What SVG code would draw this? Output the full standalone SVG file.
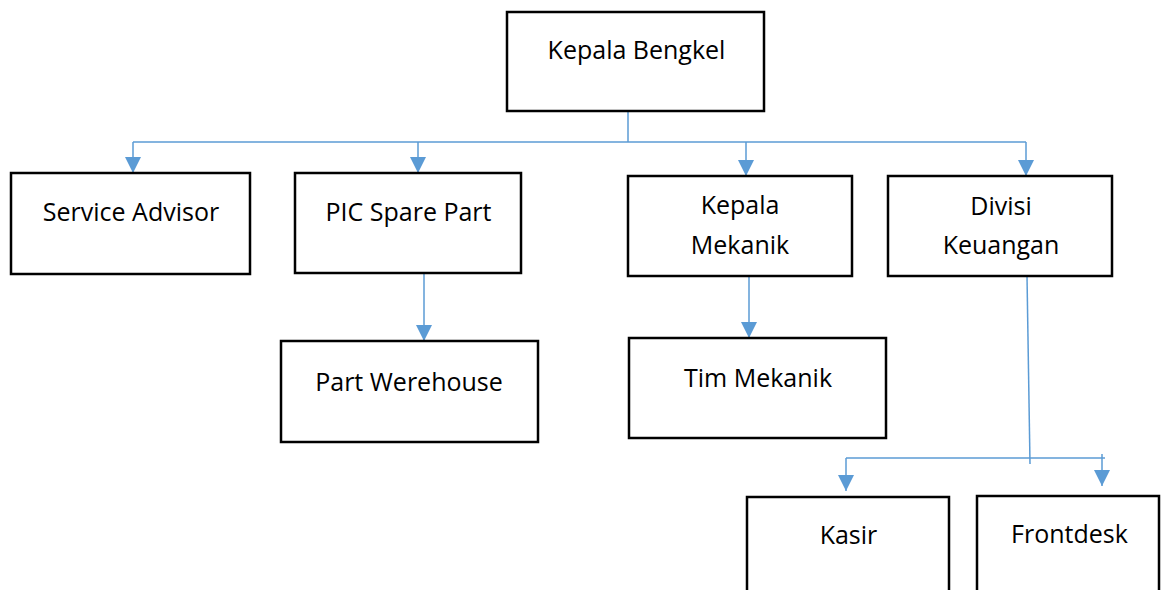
<svg xmlns="http://www.w3.org/2000/svg" width="1165" height="590" viewBox="0 0 1165 590">
<style>
.box{fill:#fff;stroke:#000;stroke-width:2.5}
.lbl{font-family:"Open Sans","Liberation Sans",sans-serif;font-size:25px;fill:#000;text-anchor:middle}
.ln{fill:none;stroke:#5B9BD5;stroke-width:1.5}
</style>
<defs>
<marker id="ah" markerUnits="userSpaceOnUse" markerWidth="16" markerHeight="16" refX="15" refY="7.5" orient="auto" viewBox="0 0 15 15">
<path d="M0,0 L15,7.5 L0,15 z" fill="#5B9BD5"/>
</marker>
</defs>
<rect width="1165" height="590" fill="#fff"/>
<g id="connectors">
<line class="ln" x1="628" y1="111" x2="628" y2="142"/>
<line class="ln" x1="133" y1="142" x2="1026" y2="142"/>
<line class="ln" x1="133" y1="142" x2="133" y2="173" marker-end="url(#ah)"/>
<line class="ln" x1="418" y1="142" x2="418" y2="173" marker-end="url(#ah)"/>
<line class="ln" x1="746" y1="142" x2="746" y2="176" marker-end="url(#ah)"/>
<line class="ln" x1="1026" y1="142" x2="1026" y2="176" marker-end="url(#ah)"/>
<line class="ln" x1="424" y1="273" x2="424" y2="341" marker-end="url(#ah)"/>
<line class="ln" x1="749" y1="276" x2="749" y2="338" marker-end="url(#ah)"/>
<line class="ln" x1="1027" y1="276" x2="1030" y2="464"/>
<line class="ln" x1="846" y1="458" x2="1105" y2="458"/>
<line class="ln" x1="846" y1="458" x2="846" y2="491" marker-end="url(#ah)"/>
<line class="ln" x1="1102" y1="454" x2="1102" y2="486" marker-end="url(#ah)"/>
</g>
<g id="kepala-bengkel">
<rect class="box" x="507" y="12" width="257" height="99"/>
<text class="lbl" x="636.5" y="59">Kepala Bengkel</text>
</g>
<g id="service-advisor">
<rect class="box" x="11" y="173" width="239" height="101"/>
<text class="lbl" x="131" y="221">Service Advisor</text>
</g>
<g id="pic-spare-part">
<rect class="box" x="295" y="173" width="226" height="100"/>
<text class="lbl" x="408.5" y="221">PIC Spare Part</text>
</g>
<g id="kepala-mekanik">
<rect class="box" x="628" y="176" width="224" height="100"/>
<text class="lbl" x="740" y="214">Kepala</text>
<text class="lbl" x="740" y="254">Mekanik</text>
</g>
<g id="divisi-keuangan">
<rect class="box" x="888" y="176" width="224" height="100"/>
<text class="lbl" x="1001" y="215">Divisi</text>
<text class="lbl" x="1001" y="254">Keuangan</text>
</g>
<g id="part-werehouse">
<rect class="box" x="281" y="341" width="257" height="101"/>
<text class="lbl" x="409" y="391">Part Werehouse</text>
</g>
<g id="tim-mekanik">
<rect class="box" x="629" y="338" width="257" height="100"/>
<text class="lbl" x="758" y="387">Tim Mekanik</text>
</g>
<g id="kasir">
<rect class="box" x="747" y="497" width="202" height="110"/>
<text class="lbl" x="848.5" y="544">Kasir</text>
</g>
<g id="frontdesk">
<rect class="box" x="977" y="496" width="182" height="110"/>
<text class="lbl" x="1069.5" y="543">Frontdesk</text>
</g>
</svg>
